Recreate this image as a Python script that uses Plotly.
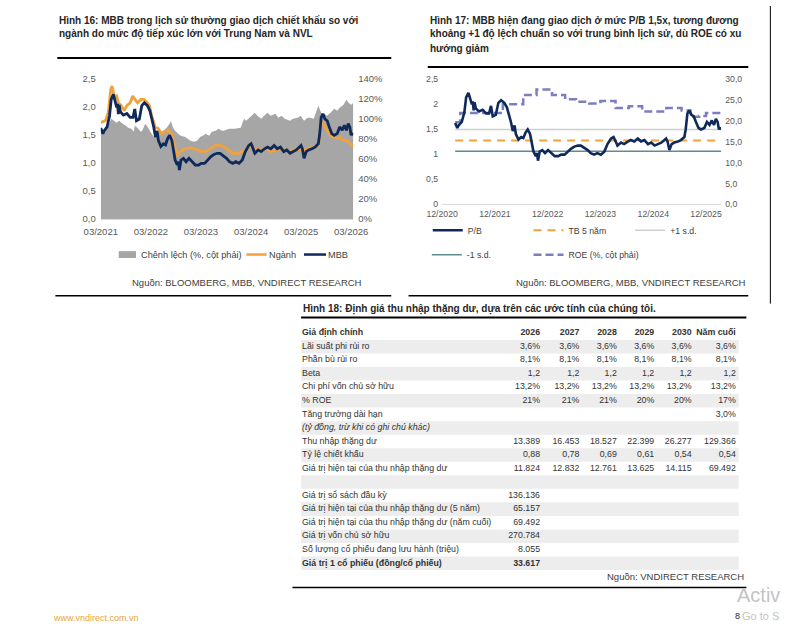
import plotly.graph_objects as go

W, H = 794, 624
FONT = "Liberation Sans, Arial, sans-serif"

# ---------------- DATA ----------------
mbb_dates = ["2021-03-01", "2021-03-16", "2021-03-25", "2021-04-16", "2021-05-04", "2021-05-16", "2021-06-01",
             "2021-06-10", "2021-06-25", "2021-07-01", "2021-07-07", "2021-07-13", "2021-07-22", "2021-08-13",
             "2021-09-07", "2021-10-01", "2021-10-22", "2021-11-04", "2021-11-16", "2021-12-07", "2021-12-25",
             "2022-01-13", "2022-02-04", "2022-02-22", "2022-03-04", "2022-03-22", "2022-04-04", "2022-04-16",
             "2022-04-25", "2022-05-13", "2022-06-01", "2022-06-16", "2022-07-01", "2022-07-16", "2022-08-01",
             "2022-08-16", "2022-08-25", "2022-09-10", "2022-09-19", "2022-09-25", "2022-10-07", "2022-10-25",
             "2022-11-13", "2022-12-04", "2022-12-28", "2023-01-19", "2023-02-13", "2023-03-04", "2023-03-28",
             "2023-04-19", "2023-05-13", "2023-06-04", "2023-06-28", "2023-07-19", "2023-08-13", "2023-09-04",
             "2023-09-25", "2023-10-19", "2023-11-10", "2023-12-04", "2023-12-28", "2024-01-19", "2024-02-13",
             "2024-03-01", "2024-03-16", "2024-03-28", "2024-04-22", "2024-05-13", "2024-06-07", "2024-06-28",
             "2024-07-22", "2024-08-16", "2024-09-07", "2024-10-01", "2024-10-25", "2024-11-16", "2024-12-10",
             "2025-01-01", "2025-01-25", "2025-02-16", "2025-02-28", "2025-03-10", "2025-03-22", "2025-04-07",
             "2025-04-25", "2025-05-19", "2025-06-10", "2025-07-04", "2025-07-13", "2025-07-25", "2025-08-07",
             "2025-08-22", "2025-09-07", "2025-09-22", "2025-10-10", "2025-10-28", "2025-11-19", "2025-12-07",
             "2025-12-25", "2026-01-10", "2026-01-25", "2026-02-07", "2026-02-19", "2026-02-28", "2026-03-04",
             "2026-03-16"]
mbb_pb = [1.62, 1.52, 1.57, 1.64, 1.84, 2.13, 2.22,
          2.12, 1.99, 2.05, 1.87, 2.03, 1.91, 1.85,
          1.88, 1.81, 1.81, 1.96, 1.75, 1.78, 2.02,
          2.07, 2.02, 1.93, 1.84, 1.64, 1.46, 1.57,
          1.40, 1.29, 1.34, 1.32, 1.43, 1.49, 1.40,
          1.20, 1.05, 0.96, 1.02, 0.87, 1.05, 1.08,
          1.02, 1.08, 1.02, 0.96, 0.96, 0.99, 0.99,
          1.05, 1.11, 1.15, 1.17, 1.17, 1.13, 1.08,
          1.02, 0.99, 1.02, 0.99, 1.05, 1.20, 1.31,
          1.34, 1.25, 1.17, 1.23, 1.20, 1.25, 1.28,
          1.25, 1.31, 1.25, 1.28, 1.20, 1.23, 1.17,
          1.20, 1.23, 1.28, 1.31, 1.25, 1.08, 1.20,
          1.23, 1.25, 1.28, 1.34, 1.49, 1.81, 1.87,
          1.78, 1.75, 1.64, 1.52, 1.49, 1.52, 1.64,
          1.58, 1.67, 1.58, 1.70, 1.64, 1.49, 1.52,
          1.50]

nganh_dates = ["2021-03-01", "2021-04-04", "2021-04-25", "2021-05-13", "2021-05-22", "2021-06-10", "2021-06-25",
               "2021-07-07", "2021-07-28", "2021-08-19", "2021-09-07", "2021-10-01", "2021-10-19", "2021-11-04",
               "2021-11-25", "2021-12-19", "2022-01-10", "2022-02-04", "2022-02-19", "2022-03-07", "2022-04-01",
               "2022-04-25", "2022-05-16", "2022-06-10", "2022-07-07", "2022-08-01", "2022-08-19", "2022-09-10",
               "2022-09-25", "2022-10-19", "2022-11-22", "2022-12-28", "2023-02-01", "2023-03-04", "2023-04-10",
               "2023-05-13", "2023-06-16", "2023-07-19", "2023-08-13", "2023-09-16", "2023-10-19", "2023-11-22",
               "2023-12-28", "2024-02-01", "2024-02-22", "2024-03-28", "2024-05-13", "2024-06-28", "2024-07-22",
               "2024-08-25", "2024-10-01", "2024-11-01", "2024-12-01", "2025-01-01", "2025-02-01", "2025-03-31",
               "2025-04-19", "2025-07-04", "2025-07-25", "2025-08-07", "2025-08-22", "2025-09-10", "2025-09-28",
               "2025-10-28", "2025-11-19", "2025-12-10", "2025-12-31", "2026-01-25", "2026-02-25", "2026-03-16"]
nganh_pb = [1.72, 1.75, 1.90, 2.31, 2.37, 2.16, 2.19,
            2.07, 2.02, 1.93, 2.02, 2.07, 2.19, 2.13,
            2.07, 2.13, 2.13, 2.07, 2.02, 1.84, 1.64,
            1.61, 1.52, 1.55, 1.58, 1.52, 1.32, 1.14,
            1.17, 1.23, 1.26, 1.26, 1.23, 1.20, 1.21,
            1.26, 1.31, 1.31, 1.29, 1.23, 1.17, 1.17,
            1.20, 1.23, 1.31, 1.25, 1.23, 1.25, 1.20,
            1.23, 1.25, 1.23, 1.20, 1.23, 1.23, 1.23,
            1.25, 1.31, 1.70, 1.72, 1.64, 1.58, 1.49,
            1.46, 1.43, 1.46, 1.40, 1.40, 1.34, 1.29]

spread_dates = ["2021-03-01", "2021-04-16", "2021-05-16", "2021-06-10", "2021-06-25", "2021-07-13", "2021-08-07",
                "2021-09-01", "2021-09-16", "2021-10-10", "2021-10-28", "2021-11-04", "2021-11-22", "2021-12-19",
                "2021-12-28", "2022-01-19", "2022-02-10", "2022-02-25", "2022-03-22", "2022-04-10", "2022-05-07",
                "2022-05-31", "2022-06-25", "2022-07-16", "2022-07-25", "2022-08-10", "2022-08-25", "2022-09-16",
                "2022-10-04", "2022-11-04", "2022-11-22", "2022-12-16", "2023-01-10", "2023-02-01", "2023-02-25",
                "2023-03-16", "2023-04-04", "2023-05-01", "2023-05-19", "2023-06-16", "2023-07-07", "2023-08-01",
                "2023-08-13", "2023-09-25", "2023-11-01", "2023-12-16", "2024-01-10", "2024-01-25", "2024-03-04",
                "2024-03-28", "2024-04-16", "2024-05-13", "2024-06-04", "2024-06-28", "2024-07-22", "2024-08-25",
                "2024-09-16", "2024-10-10", "2024-11-01", "2024-12-10", "2024-12-31", "2025-02-04", "2025-02-25",
                "2025-03-22", "2025-04-16", "2025-05-07", "2025-06-01", "2025-07-04", "2025-07-25", "2025-08-19",
                "2025-09-04", "2025-10-01", "2025-10-28", "2025-11-19", "2025-12-07", "2026-01-04", "2026-01-25",
                "2026-02-10", "2026-02-28", "2026-03-16"]
spread_pct = [88, 90, 100, 98, 96, 98, 95,
              93, 91, 90, 87, 93, 91, 87,
              88, 95, 91, 87, 82, 83, 87,
              88, 91, 95, 98, 91, 88, 85,
              83, 82, 80, 78, 77, 78, 82,
              83, 85, 83, 87, 88, 90, 88,
              88, 90, 90, 91, 100, 98, 103,
              106, 103, 100, 103, 106, 103, 105,
              101, 103, 100, 98, 100, 101, 103,
              98, 101, 101, 100, 113, 106, 105,
              103, 106, 110, 108, 111, 114, 119,
              116, 114, 116]

roe_dates = ["2021-03-01", "2021-04-05", "2022-01-25", "2022-06-15", "2022-09-15", "2022-12-31", "2023-04-01",
             "2023-06-15", "2023-09-15", "2023-12-01", "2024-03-15", "2024-06-15", "2024-09-15", "2025-03-01",
             "2025-06-15", "2025-08-15", "2025-10-15", "2025-12-01", "2026-03-16"]
roe_pct = [19.6, 21.8, 23.9, 26.1, 27.4, 26.1, 25.1,
           24.5, 24.1, 24.7, 23.0, 23.4, 22.2, 23.0,
           22.4, 20.9, 21.1, 21.8, 21.8]

band_names = ["TB 5 năm", "+1 s.d.", "-1 s.d."]
band_values = [1.27, 1.49, 1.06]

# tick labels
c1_xtick_vals = ["2021-03-01", "2022-03-01", "2023-03-01", "2024-03-01", "2025-03-01", "2026-03-01"]
c1_xtick_text = ["03/2021", "03/2022", "03/2023", "03/2024", "03/2025", "03/2026"]
c1_ytick_vals = [0, 0.5, 1.0, 1.5, 2.0, 2.5]
c1_ytick_text = ["0,0", "0,5", "1,0", "1,5", "2,0", "2,5"]
c1_y2tick_vals = [0, 20, 40, 60, 80, 100, 120, 140]
c1_y2tick_text = ["0%", "20%", "40%", "60%", "80%", "100%", "120%", "140%"]

c2_xtick_vals = ["2020-12-01", "2021-12-01", "2022-12-01", "2023-12-01", "2024-12-01", "2025-12-01"]
c2_xtick_text = ["12/2020", "12/2021", "12/2022", "12/2023", "12/2024", "12/2025"]
c2_ytick_vals = [0, 0.5, 1.0, 1.5, 2.0, 2.5]
c2_ytick_text = ["0", "0,5", "1", "1,5", "2", "2,5"]
c2_y2tick_vals = [0, 5, 10, 15, 20, 25, 30]
c2_y2tick_text = ["0,0", "5,0", "10,0", "15,0", "20,0", "25,0", "30,0"]

# table
tbl_header = ["Giả định chính", "2026", "2027", "2028", "2029", "2030", "Năm cuối"]
tbl_labels = ["Lãi suất phi rủi ro", "Phần bù rủi ro", "Beta", "Chi phí vốn chủ sở hữu", "% ROE",
              "Tăng trưởng dài hạn", "(tỷ đồng, trừ khi có ghi chú khác)", "Thu nhập thặng dư",
              "Tỷ lệ chiết khấu", "Giá trị hiện tại của thu nhập thặng dư", "",
              "Giá trị sổ sách đầu kỳ", "Giá trị hiện tại của thu nhập thặng dư (5 năm)",
              "Giá trị hiện tại của thu nhập thặng dư (năm cuối)", "Giá trị vốn chủ sở hữu",
              "Số lượng cổ phiếu đang lưu hành (triệu)", "Giá trị 1 cổ phiếu (đồng/cổ phiếu)"]
tbl_2026 = ["3,6%", "8,1%", "1,2", "13,2%", "21%", "", "", "13.389", "0,88", "11.824", "",
            "136.136", "65.157", "69.492", "270.784", "8.055", "33.617"]
tbl_2027 = ["3,6%", "8,1%", "1,2", "13,2%", "21%", "", "", "16.453", "0,78", "12.832", "",
            "", "", "", "", "", ""]
tbl_2028 = ["3,6%", "8,1%", "1,2", "13,2%", "21%", "", "", "18.527", "0,69", "12.761", "",
            "", "", "", "", "", ""]
tbl_2029 = ["3,6%", "8,1%", "1,2", "13,2%", "20%", "", "", "22.399", "0,61", "13.625", "",
            "", "", "", "", "", ""]
tbl_2030 = ["3,6%", "8,1%", "1,2", "13,2%", "20%", "", "", "26.277", "0,54", "14.115", "",
            "", "", "", "", "", ""]
tbl_final = ["3,6%", "8,1%", "1,2", "13,2%", "17%", "3,0%", "", "129.366", "0,54", "69.492", "",
             "", "", "", "", "", ""]

# ---------------- STYLE / LAYOUT ----------------
NAVY = "#0f2a5a"
ORANGE = "#f0a23c"
GRAY = "#a6a6a6"
ROE_C = "#7b7ec0"
SD_UP = "#cfcfcf"
SD_DN = "#5f8b93"
TXT = "#404040"
TICK = "#595959"


def fx(p):
    return p / W


def fy(p):
    return 1 - p / H


fig = go.Figure()

# ---- Chart 1 (Hình 16) ----
c1_names = ["Chênh lệch (%, cột phải)", "Ngành", "MBB"]
fig.add_trace(go.Scatter(x=spread_dates, y=spread_pct, xaxis="x", yaxis="y", mode="lines",
                         line=dict(width=0, color=GRAY), fill="tozeroy", fillcolor=GRAY,
                         name=c1_names[0], showlegend=False, hoverinfo="skip"))
fig.add_trace(go.Scatter(x=nganh_dates, y=nganh_pb, xaxis="x", yaxis="y2", mode="lines",
                         line=dict(width=2.8, color=ORANGE), name=c1_names[1], showlegend=False,
                         hoverinfo="skip"))
fig.add_trace(go.Scatter(x=mbb_dates, y=mbb_pb, xaxis="x", yaxis="y2", mode="lines",
                         line=dict(width=2.8, color=NAVY), name=c1_names[2], showlegend=False,
                         hoverinfo="skip"))

# ---- Chart 2 (Hình 17) ----
fig.add_trace(go.Scatter(x=roe_dates, y=roe_pct, xaxis="x2", yaxis="y3", mode="lines",
                         line=dict(width=2.5, color=ROE_C, dash="8px,4px", shape="hv"),
                         name="ROE (%, cột phải)", legend="legend8", hoverinfo="skip"))
band_styles = [dict(color=ORANGE, width=2, dash="8px,6px"),
               dict(color=SD_UP, width=1.5),
               dict(color=SD_DN, width=1.5)]
band_legends = ["legend5", "legend6", "legend7"]
for nm, val, st, lg in zip(band_names, band_values, band_styles, band_legends):
    fig.add_trace(go.Scatter(x=[mbb_dates[0], mbb_dates[-1]], y=[val, val], xaxis="x2", yaxis="y4",
                             mode="lines", line=st, name=nm, legend=lg, hoverinfo="skip"))
fig.add_trace(go.Scatter(x=mbb_dates, y=mbb_pb, xaxis="x2", yaxis="y4", mode="lines",
                         line=dict(width=2.6, color=NAVY), name="P/B", legend="legend4",
                         hoverinfo="skip"))

# ---- Table (Hình 18) ----
n_rows = 1 + len(tbl_labels)
shade_rows = list(range(1, n_rows, 2))
TBL_L, TBL_R = 296, 752
fig.add_trace(go.Bar(y=shade_rows, x=[TBL_R - TBL_L] * len(shade_rows), base=TBL_L, width=1,
                     orientation="h", marker=dict(color="#ededed", line=dict(width=0)),
                     xaxis="x3", yaxis="y5", showlegend=False, hoverinfo="skip"))

columns = [tbl_labels, tbl_2026, tbl_2027, tbl_2028, tbl_2029, tbl_2030, tbl_final]
col_x = [297, 545, 586, 625, 664, 703, 749]
bold_rows = {0, n_rows - 1}
italic_rows = {7}
for j, (hdr, col) in enumerate(zip(tbl_header, columns)):
    texts = []
    for i, s in enumerate([hdr] + col):
        if s and i in bold_rows:
            s = "<b>" + s + "</b>"
        elif s and i in italic_rows:
            s = "<i>" + s + "</i>"
        texts.append(s)
    fig.add_trace(go.Scatter(x=[col_x[j]] * n_rows, y=list(range(n_rows)), mode="text", text=texts,
                             textposition="middle right" if j == 0 else "middle left",
                             textfont=dict(family=FONT, size=8.8, color="#333333"),
                             xaxis="x3", yaxis="y5", showlegend=False, hoverinfo="skip",
                             cliponaxis=False))

# ---- axes ----
tickfont1 = dict(family=FONT, size=9.5, color=TICK)
tickfont2 = dict(family=FONT, size=8.7, color=TICK)
common = dict(showgrid=False, zeroline=False, ticks="", fixedrange=True)

layout = dict(
    width=W, height=H, autosize=False, margin=dict(l=0, r=0, t=0, b=0, pad=0),
    paper_bgcolor="white", plot_bgcolor="rgba(0,0,0,0)",
    hovermode=False, showlegend=True,
    xaxis=dict(domain=[fx(87.3), fx(350.4)], anchor="y", type="date",
               range=["2021-03-01", "2026-03-16"], tickvals=c1_xtick_vals, ticktext=c1_xtick_text,
               tickfont=tickfont1, showline=True, linecolor="#d9d9d9", linewidth=1,
               ticklabelstandoff=4, **common),
    yaxis=dict(domain=[fy(216.7), fy(74)], anchor="x", side="right", range=[0, 140],
               tickvals=c1_y2tick_vals, ticktext=c1_y2tick_text, tickfont=tickfont1,
               ticklabelstandoff=4, showline=False, **common),
    yaxis2=dict(overlaying="y", anchor="x", side="left", range=[0, 2.5],
                tickvals=c1_ytick_vals, ticktext=c1_ytick_text, tickfont=tickfont1,
                ticklabelstandoff=4, showline=False, **common),
    xaxis2=dict(domain=[fx(443), fx(733.8)], anchor="y3", type="date",
                range=["2020-12-01", "2026-03-16"], tickvals=c2_xtick_vals, ticktext=c2_xtick_text,
                tickfont=tickfont2, showline=True, linecolor="#d9d9d9", linewidth=1,
                ticklabelstandoff=1, **common),
    yaxis3=dict(domain=[fy(202), fy(74)], anchor="x2", side="right", range=[0, 30],
                tickvals=c2_y2tick_vals, ticktext=c2_y2tick_text, tickfont=tickfont2,
                ticklabelstandoff=3, showline=False, **common),
    yaxis4=dict(overlaying="y3", anchor="x2", side="left", range=[0, 2.5],
                tickvals=c2_ytick_vals, ticktext=c2_ytick_text, tickfont=tickfont2,
                ticklabelstandoff=3, showline=False, **common),
    xaxis3=dict(domain=[0, 1], anchor="y5", range=[0, W], visible=False, fixedrange=True),
    yaxis5=dict(domain=[fy(574.2), fy(326.1)], anchor="x3", range=[n_rows - 0.5, -0.5],
                visible=False, fixedrange=True),
)

# chart-2 legends: (name, text start x, center y)
legend_pos = [("legend4", 468, 223), ("legend5", 573, 223), ("legend6", 679, 223),
              ("legend7", 467, 248), ("legend8", 573, 248)]
for nm, tx, cy in legend_pos:
    layout[nm] = dict(x=fx(tx - 40), xanchor="left", y=fy(cy - 9.5), yanchor="top",
                      orientation="h", bgcolor="rgba(0,0,0,0)", borderwidth=0,
                      font=dict(family=FONT, size=8.7, color=TXT),
                      itemclick=False, itemdoubleclick=False)

fig.update_layout(**layout)

# ---- text annotations ----
title16 = ["Hình 16: MBB trong lịch sử thường giao dịch chiết khấu so với",
           "ngành do mức độ tiếp xúc lớn với Trung Nam và NVL"]
title17 = ["Hình 17: MBB hiện đang giao dịch ở mức P/B 1,5x, tương đương",
           "khoảng +1 độ lệch chuẩn so với trung bình lịch sử, dù ROE có xu",
           "hướng giảm"]
title18 = "Hình 18: Định giá thu nhập thặng dư, dựa trên các ước tính của chúng tôi."
source12 = "Nguồn: BLOOMBERG, MBB, VNDIRECT RESEARCH"
source3 = "Nguồn: VNDIRECT RESEARCH"


def note(x, y, s, size, color, anchor="left", bold=False):
    fig.add_annotation(x=fx(x), y=fy(y), xref="paper", yref="paper", showarrow=False,
                       xanchor=anchor, yanchor="middle", text=("<b>%s</b>" % s) if bold else s,
                       font=dict(family=FONT, size=size, color=color))


for k, line in enumerate(title16):
    note(42, 15 + 14 * k, line, 10, "#262626", bold=True)
for k, line in enumerate(title17):
    note(428, 15 + 14 * k, line, 10, "#262626", bold=True)
note(296, 308, title18, 10, "#262626", bold=True)
note(362, 281, source12, 9.5, TXT, anchor="right")
note(762, 281, source12, 9.5, TXT, anchor="right")
note(760, 581, source3, 9.5, TXT, anchor="right")
note(35, 623, "www.vndirect.com.vn", 9, "#e8a33c")
note(748, 600, "Activ", 20, "#c4c4c4")
note(746, 621, "8", 9, "#222222")
note(753, 621, "Go to S", 11, "#c4c4c4")

# ---- chart-1 key (swatch + label per series) ----
LEG1_Y = 253
fig.add_shape(type="rect", xref="paper", yref="paper", x0=fx(106), x1=fx(124), y0=fy(LEG1_Y + 3.5),
              y1=fy(LEG1_Y - 3.5), line=dict(width=0), fillcolor=GRAY)
fig.add_shape(type="line", xref="paper", yref="paper", x0=fx(239), x1=fx(260), y0=fy(LEG1_Y),
              y1=fy(LEG1_Y), line=dict(color=ORANGE, width=2.5))
fig.add_shape(type="line", xref="paper", yref="paper", x0=fx(299), x1=fx(322), y0=fy(LEG1_Y),
              y1=fy(LEG1_Y), line=dict(color=NAVY, width=2.5))
for tx, nm in zip([127, 260, 322], c1_names):
    note(tx, LEG1_Y, nm, 9.2, TXT)

# ---- rules ----
rules = [(42, 390, 53, 2), (428, 762, 62, 2), (40, 390, 295, 1.5), (408, 762, 295, 1.5),
         (296, 760, 317, 2), (287, 760, 592, 1.5)]
for x0, x1, y, w in rules:
    fig.add_shape(type="line", xref="paper", yref="paper", x0=fx(x0), x1=fx(x1), y0=fy(y), y1=fy(y),
                  line=dict(color="black", width=w))
fig.add_shape(type="line", xref="paper", yref="paper", x0=fx(785), x1=fx(785), y0=fy(0), y1=fy(303),
              line=dict(color="black", width=1))

fig.write_html("out.html", config={"displayModeBar": False, "responsive": False},
               post_script="document.body.style.margin='0';document.body.style.overflow='hidden';")
